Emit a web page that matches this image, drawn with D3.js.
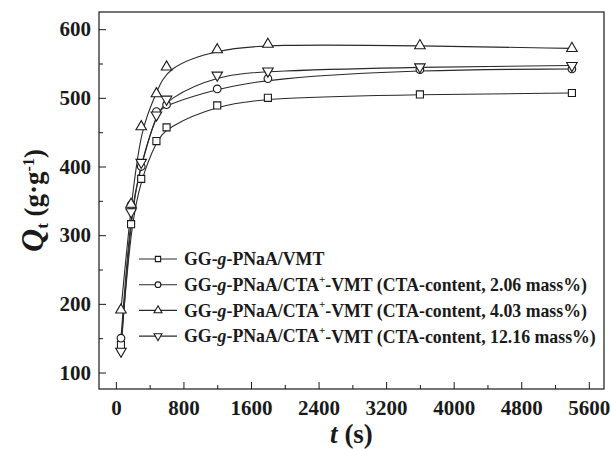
<!DOCTYPE html>
<html>
<head>
<meta charset="utf-8">
<script src="https://cdn.jsdelivr.net/npm/d3@7"></script>
<style>
  body { margin: 0; background: #fff; }
  svg { display: block; }
  text { font-family: "Liberation Serif", "Times New Roman", serif; font-weight: bold; fill: #1a1a1a; }
</style>
</head>
<body>
<div id="vis"></div>
<script>
// ************************** DATA **************************//
var times = [60, 180, 300, 480, 600, 1200, 1800, 3600, 5400];

var seriesVMT   = [140, 316, 382, 437, 457, 489, 500, 505, 507];
var seriesCTA206 = [150, 344, 400, 480, 490, 513, 528, 541, 542];
var seriesCTA403 = [191, 345, 458, 506, 545, 570, 578, 576, 572];
var seriesCTA1216 = [131, 334, 406, 475, 498, 533, 539, 545, 547];

var legendLabels = [
  { pre: "GG-", it: "g", post: "-PNaA/VMT", sup: "", tail: "" },
  { pre: "GG-", it: "g", post: "-PNaA/CTA", sup: "+", tail: "-VMT (CTA-content, 2.06 mass%)" },
  { pre: "GG-", it: "g", post: "-PNaA/CTA", sup: "+", tail: "-VMT (CTA-content, 4.03 mass%)" },
  { pre: "GG-", it: "g", post: "-PNaA/CTA", sup: "+", tail: "-VMT (CTA-content, 12.16 mass%)" }
];
var markerTypes = ["square", "circle", "triangle", "triangleDown"];

var xTicks = [0, 800, 1600, 2400, 3200, 4000, 4800, 5600];
var yTicks = [100, 200, 300, 400, 500, 600];

var allSeries = [seriesVMT, seriesCTA206, seriesCTA403, seriesCTA1216];

// ************************** LAYOUT **************************//
var width = 611, height = 449;
var margin = {left: 99, top: 12, right: 7, bottom: 60};
var innerW = width - margin.left - margin.right;
var innerH = height - margin.top - margin.bottom;

var x = d3.scaleLinear().domain([-200, 5780]).range([0, innerW]);
var y = d3.scaleLinear().domain([76, 625]).range([innerH, 0]);

var ink = "#1a1a1a";

var svg = d3.select("#vis").append("svg")
  .attr("width", width)
  .attr("height", height);

var g = svg.append("g").attr("transform", `translate(${margin.left},${margin.top})`);

// minor ticks
var xMinor = d3.range(400, 5600, 800);
var yMinor = d3.range(150, 600, 100);

g.append("g").attr("transform", `translate(0,${innerH})`)
  .call(d3.axisBottom(x).tickValues(xMinor).tickSize(-4).tickFormat(""))
  .call(g => g.select(".domain").remove())
  .call(g => g.selectAll("line").attr("stroke", ink));

g.append("g")
  .call(d3.axisLeft(y).tickValues(yMinor).tickSize(-4).tickFormat(""))
  .call(g => g.select(".domain").remove())
  .call(g => g.selectAll("line").attr("stroke", ink));

// major axes
g.append("g").attr("transform", `translate(0,${innerH})`)
  .call(d3.axisBottom(x).tickValues(xTicks).tickSize(-7).tickPadding(11).tickFormat(d3.format("d")))
  .call(g => g.select(".domain").remove())
  .call(g => g.selectAll("line").attr("stroke", ink))
  .call(g => g.selectAll("text").attr("font-size", 21).attr("font-family", null).attr("fill", ink));

g.append("g")
  .call(d3.axisLeft(y).tickValues(yTicks).tickSize(-7).tickPadding(8).tickFormat(d3.format("d")))
  .call(g => g.select(".domain").remove())
  .call(g => g.selectAll("line").attr("stroke", ink))
  .call(g => g.selectAll("text").attr("font-size", 21).attr("font-family", null).attr("fill", ink));

// frame
g.append("rect")
  .attr("width", innerW).attr("height", innerH)
  .attr("fill", "none").attr("stroke", ink).attr("stroke-width", 1.2);

// ************************** MARKERS **************************//
function markerPath(type, scale) {
  scale = scale || 1;
  if (type === "square") return d3.symbol(d3.symbolSquare, 50 * scale * scale)();
  if (type === "circle") return d3.symbol(d3.symbolCircle, 46 * scale * scale)();
  return d3.symbol(d3.symbolTriangle, 48 * scale * scale)();
}
function markerTransform(type, px, py) {
  return type === "triangleDown" ? `translate(${px},${py}) rotate(180)` : `translate(${px},${py})`;
}

var line = d3.line()
  .x((d, i) => x(times[i]))
  .y(d => y(d))
  .curve(d3.curveBasis);

allSeries.forEach(function(s, k) {
  g.append("path")
    .datum(s)
    .attr("d", line)
    .attr("fill", "none")
    .attr("stroke", "#2a2a2a")
    .attr("stroke-width", 1.1);
});

allSeries.forEach(function(s, k) {
  g.append("g").selectAll("path")
    .data(s)
    .join("path")
    .attr("d", markerPath(markerTypes[k]))
    .attr("transform", (d, i) => markerTransform(markerTypes[k], x(times[i]), y(d)))
    .attr("fill", "#fff")
    .attr("stroke", ink)
    .attr("stroke-width", 1.1);
});

// ************************** LEGEND **************************//
var legend = svg.append("g").attr("transform", "translate(139,259)");
var legendStep = 25.7;

var items = legend.selectAll("g")
  .data(legendLabels)
  .join("g")
  .attr("transform", (d, i) => `translate(0,${i * legendStep})`);

items.append("line")
  .attr("x1", 0).attr("x2", 38)
  .attr("stroke", "#2a2a2a").attr("stroke-width", 1.1);

items.append("path")
  .attr("d", (d, i) => markerPath(markerTypes[i], 0.75))
  .attr("transform", (d, i) => markerTransform(markerTypes[i], 19, 0))
  .attr("fill", "#fff")
  .attr("stroke", ink)
  .attr("stroke-width", 1.1);

var lt = items.append("text")
  .attr("x", 45)
  .attr("dy", "0.35em")
  .attr("font-size", 17.8);
lt.append("tspan").text(d => d.pre);
lt.append("tspan").attr("font-style", "italic").text(d => d.it);
lt.append("tspan").text(d => d.post);
lt.append("tspan").attr("font-size", 11).attr("dy", "-0.75em").text(d => d.sup);
lt.append("tspan").attr("dy", d => d.sup ? "0.48em" : 0).text(d => d.tail);

// ************************** AXIS TITLES **************************//
var xt = svg.append("text")
  .attr("x", margin.left + innerW / 2)
  .attr("y", 443)
  .attr("text-anchor", "middle")
  .attr("font-size", 27);
xt.append("tspan").attr("font-style", "italic").text("t");
xt.append("tspan").text(" (s)");

var yt = svg.append("text")
  .attr("transform", `translate(43,${margin.top + innerH / 2}) rotate(-90)`)
  .attr("text-anchor", "middle")
  .attr("font-size", 27);
yt.append("tspan").attr("font-style", "italic").attr("font-size", 32).text("Q");
yt.append("tspan").attr("font-size", 17).attr("dy", "0.3em").text("t");
yt.append("tspan").attr("dy", "-0.19em").text(" (g\u00b7g");
yt.append("tspan").attr("font-size", 16).attr("dy", "-0.55em").text("-1");
yt.append("tspan").attr("dy", "0.33em").text(")");
</script>
</body>
</html>
